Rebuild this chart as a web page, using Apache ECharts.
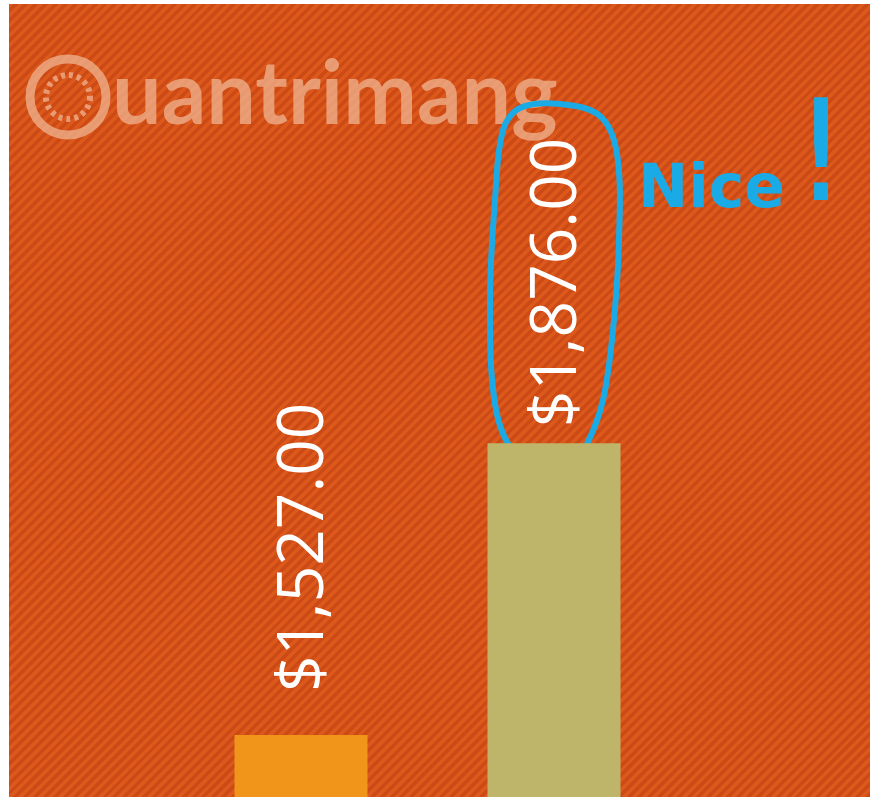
<!DOCTYPE html>
<html>
<head>
<meta charset="utf-8">
<script src="https://cdn.jsdelivr.net/npm/echarts@6/dist/echarts.min.js"></script>
<style>
  html, body { margin: 0; padding: 0; background: #ffffff; }
  #myChart {
    position: absolute; left: 9px; top: 4px; width: 861px; height: 793px;
    background: repeating-linear-gradient(135deg, #dc581b 0px, #dc581b 3.5px, #cb4a15 3.5px, #cb4a15 7px);
  }
</style>
</head>
<body>
<div id="myChart"></div>
<script>
// 数据
let categories = ['Cột 1', 'Cột 2']
let values = [1527, 1876]

// 标签离柱顶的距离
let labelGap = [43, 16]

let myChart = echarts.init(document.getElementById('myChart'))

myChart.setOption({
  animation: false,
  color: ['#f0951a', '#bfb56a'],
  grid: { left: 165.5, right: 189.5, top: 0, bottom: 0 },
  xAxis: {
    type: 'category',
    data: categories,
    show: false
  },
  yAxis: {
    type: 'value',
    min: 1453,
    max: 2401,
    show: false,
    splitLine: { show: false }
  },
  series: [{
    type: 'bar',
    colorBy: 'data',
    barWidth: 133,
    data: values.map(function (v, i) {
      return { value: v, label: { distance: labelGap[i] } }
    }),
    label: {
      show: true,
      position: 'top',
      rotate: 90,
      align: 'left',
      verticalAlign: 'middle',
      offset: [0, 4],
      color: '#ffffff',
      fontFamily: 'Open Sans',
      fontSize: 64,
      formatter: function (p) {
        return '$' + p.value.toLocaleString('en-US', { minimumFractionDigits: 2, maximumFractionDigits: 2 })
      }
    }
  }],
  graphic: [
    // 水印
    {
      type: 'circle', shape: { cx: 59, cy: 93, r: 38 },
      style: { fill: 'none', stroke: 'rgba(240,180,145,0.75)', lineWidth: 9 }
    },
    {
      type: 'circle', shape: { cx: 59, cy: 93, r: 22 },
      style: { fill: 'none', stroke: 'rgba(240,180,145,0.75)', lineWidth: 6, lineDash: [4, 4] }
    },
    {
      type: 'text', left: 103, top: 48,
      style: { text: 'uantrimang', fill: 'rgba(240,180,145,0.75)', font: 'bold 88px Lato' }
    },
    // 手写标注
    {
      type: 'polygon',
      shape: {
        smooth: 0.35,
        points: [[511, 104], [551, 100], [591, 112], [608, 150], [610, 236], [604, 326], [594, 396],
          [578, 440], [560, 466], [540, 464], [505, 448], [486, 400], [481, 296], [486, 196], [494, 126]]
      },
      style: { fill: 'none', stroke: '#1aabe6', lineWidth: 6 }
    },
    {
      type: 'text', left: 629, top: 157,
      style: { text: 'Nice', fill: '#1aabe6', font: 'bold 60px "DejaVu Sans"' }
    },
    {
      type: 'text', left: 784, top: 90,
      style: { text: '!', fill: '#1aabe6', font: '140px "DejaVu Sans"' }
    }
  ]
})
</script>
</body>
</html>
